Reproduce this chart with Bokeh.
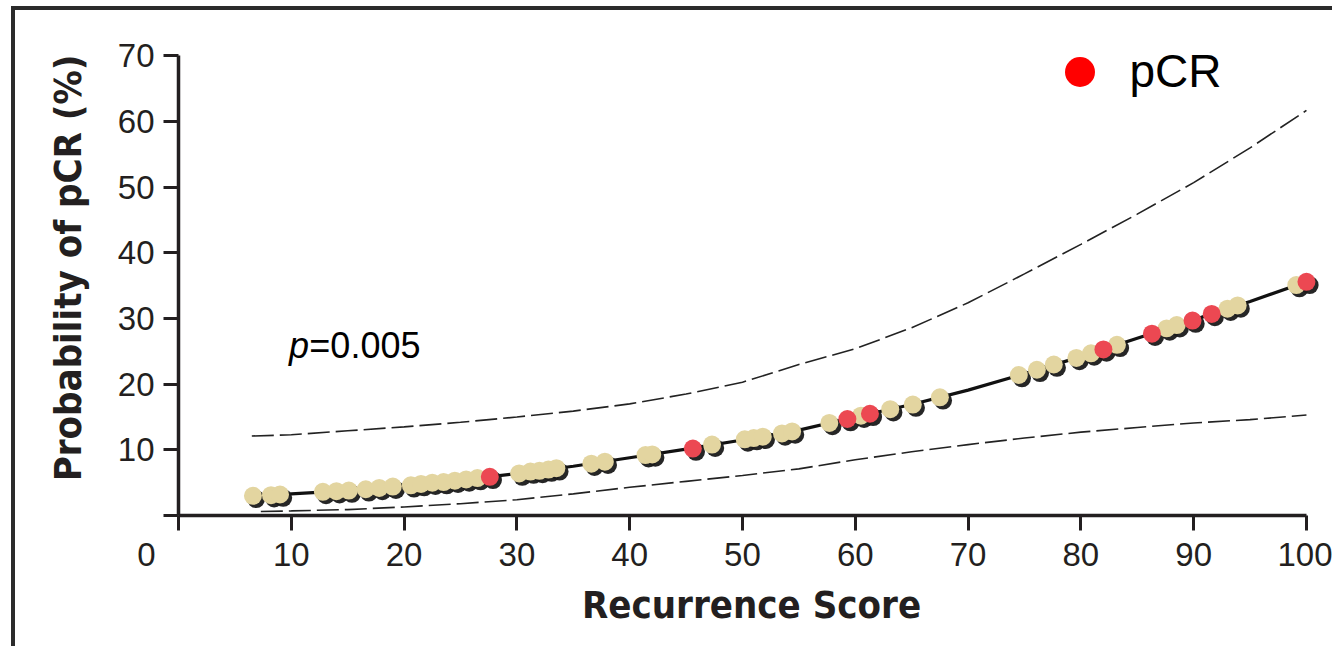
from bokeh.plotting import figure
from bokeh.models import ColumnDataSource, FixedTicker, Label, Legend, LegendItem
from bokeh.transform import dodge
from bokeh.embed import file_html
from bokeh.resources import INLINE

# ---- data ----
curve_x = [7, 10, 15, 20, 25, 30, 35, 40, 45, 50, 55, 60, 65, 70, 75, 80, 85, 90, 95, 100]
curve_y = [3.0, 3.3, 3.8, 4.5, 5.4, 6.4, 7.5, 8.8, 10.1, 11.5, 13.0, 15.0, 16.9, 19.1, 21.6, 24.2, 27.0, 29.8, 32.6, 35.6]

upper_x = [6.5, 10, 15, 20, 25, 30, 35, 40, 45, 50, 55, 60, 65, 70, 75, 80, 85, 90, 95, 100]
upper_y = [12.1, 12.3, 12.9, 13.5, 14.2, 15.0, 15.9, 17.0, 18.5, 20.3, 23.0, 25.4, 28.6, 32.4, 36.8, 41.3, 45.9, 50.7, 56.0, 61.7]

lower_x = [7.3, 10, 15, 20, 25, 30, 35, 40, 45, 50, 55, 60, 65, 70, 75, 80, 85, 90, 95, 100]
lower_y = [0.6, 0.7, 0.9, 1.3, 1.8, 2.4, 3.3, 4.3, 5.2, 6.1, 7.1, 8.5, 9.7, 10.8, 11.8, 12.7, 13.4, 14.1, 14.6, 15.3]

no_pcr_x = [6.6, 8.2, 9.0, 12.8, 14.0, 15.1, 16.6, 17.8, 19.0, 20.6, 21.5, 22.5, 23.5, 24.5, 25.5,
            26.5, 30.2, 31.2, 32.0, 32.8, 33.5, 36.6, 37.8, 41.4, 42.0, 47.3, 50.2, 51.0, 51.8, 53.5,
            54.4, 57.7, 60.5, 63.1, 65.1, 67.5, 74.5, 76.1, 77.6, 79.6, 80.9, 83.2, 87.6, 88.5, 93.0,
            93.9, 99.1]
no_pcr_y = [3.0, 3.1, 3.2, 3.6, 3.7, 3.8, 4.0, 4.2, 4.4, 4.6, 4.8, 5.0, 5.1, 5.3, 5.5,
            5.7, 6.4, 6.7, 6.8, 7.0, 7.2, 7.9, 8.2, 9.2, 9.3, 10.8, 11.6, 11.8, 12.0, 12.5,
            12.8, 14.1, 15.2, 16.2, 16.9, 18.0, 21.4, 22.2, 23.0, 24.0, 24.7, 26.0, 28.5, 29.0, 31.5,
            32.0, 35.1]

pcr_x = [27.6, 45.6, 59.3, 61.3, 82.0, 86.3, 89.9, 91.6, 100.0]
pcr_y = [5.9, 10.2, 14.7, 15.5, 25.3, 27.7, 29.7, 30.7, 35.6]

x_ticks = [0, 10, 20, 30, 40, 50, 60, 70, 80, 90, 100]
y_ticks = [0, 10, 20, 30, 40, 50, 60, 70]
legend_label = "pCR"
p_text = "p"
p_value = "=0.005"

# ---- styles ----
INK = "#231f20"
BEIGE = "#e3d5a0"
RED = "#ec4852"
DOT = 18
NBSP = "\u00a0"
LABEL_FONT = "DejaVu Sans Condensed, sans-serif"

W, H = 1317, 636
p = figure(width=W, height=H, x_range=(0, 101.6), y_range=(0, 75.4),
           output_backend="svg", toolbar_location=None,
           min_border_left=163, min_border_right=W - 1305, min_border_top=10, min_border_bottom=135)
p.styles = {"box-sizing": "content-box",
            "border-left": "4px solid #2b2b2b", "border-top": "4px solid #2b2b2b",
            "border-right": "0px none", "border-bottom": "0px none",
            "outline": "none", "box-shadow": "none",
            "margin-left": "11px", "margin-top": "6px"}
p.outline_line_color = None
p.xgrid.visible = False
p.ygrid.visible = False
p.background_fill_color = "white"
p.border_fill_color = "white"

# confidence band (dashed)
p.line(upper_x, upper_y, line_color="#222222", line_width=1.6, line_dash="22 6")
p.line(lower_x, lower_y, line_color="#222222", line_width=1.6, line_dash="22 6")

# fitted curve
p.line(curve_x, curve_y, line_color="#111111", line_width=3.2)

src_no = ColumnDataSource(dict(x=no_pcr_x, y=no_pcr_y))
src_yes = ColumnDataSource(dict(x=pcr_x, y=pcr_y))

# drop shadows
for src in (src_no, src_yes):
    p.scatter(x=dodge("x", 0.28, range=p.x_range), y=dodge("y", -0.5, range=p.y_range),
              source=src, size=DOT, fill_color="#1a1a1a", line_color=None, fill_alpha=0.95)

p.scatter("x", "y", source=src_no, size=DOT, fill_color=BEIGE, line_color=None)
# key renderer (pure red, as in the legend), hidden beneath the pCR dots
key = p.scatter("x", "y", source=src_yes, size=DOT - 2, fill_color="#ff0000", line_color=None)
p.scatter("x", "y", source=src_yes, size=DOT, fill_color=RED, line_color=None)

legend = Legend(items=[LegendItem(label=legend_label, renderers=[key])],
                location=(863.5, 406.5), orientation="vertical",
                glyph_width=75, glyph_height=75, label_standoff=13,
                label_text_font="Liberation Sans", label_text_font_size="46px",
                label_text_color="black", padding=0, margin=0, spacing=0,
                border_line_color=None, background_fill_alpha=0)
p.add_layout(legend, "center")

# axes
for ax, ticks in ((p.xaxis, x_ticks), (p.yaxis, y_ticks)):
    ax.ticker = FixedTicker(ticks=ticks)
    ax.minor_tick_line_color = None
    ax.major_tick_in = 0
    ax.major_tick_out = 15
    ax.major_tick_line_width = 3
    ax.major_tick_line_color = INK
    ax.axis_line_width = 3.5
    ax.axis_line_color = INK
    ax.major_label_text_font = "Liberation Sans"
    ax.major_label_text_font_size = "33px"
    ax.major_label_text_color = INK
    ax.axis_label_text_font = LABEL_FONT
    ax.axis_label_text_font_style = "bold"
    ax.axis_label_text_font_size = "38px"
    ax.axis_label_text_color = INK
p.xaxis.major_label_overrides = {0: "0" + NBSP * 7}
p.yaxis.major_label_overrides = {0: ""}
p.xaxis.major_label_standoff = 5
p.yaxis.major_label_standoff = 9
p.xaxis.bounds = (0, 100)
p.yaxis.bounds = (0, 70)
p.xaxis.axis_label = "Recurrence Score"
p.yaxis.axis_label = "Probability of pCR (%)"
p.xaxis.axis_label_standoff = 7
p.yaxis.axis_label_standoff = 25

# p-value annotation
p.add_layout(Label(x=9.79, y=25.9, text=p_text, text_font="Liberation Sans",
                   text_font_style="italic", text_font_size="36px", text_color="black",
                   text_baseline="alphabetic"))
p.add_layout(Label(x=11.6, y=25.9, text=p_value, text_font="Liberation Sans",
                   text_font_size="36px", text_color="black", text_baseline="alphabetic"))

open("out.html", "w").write(file_html(p, INLINE))
